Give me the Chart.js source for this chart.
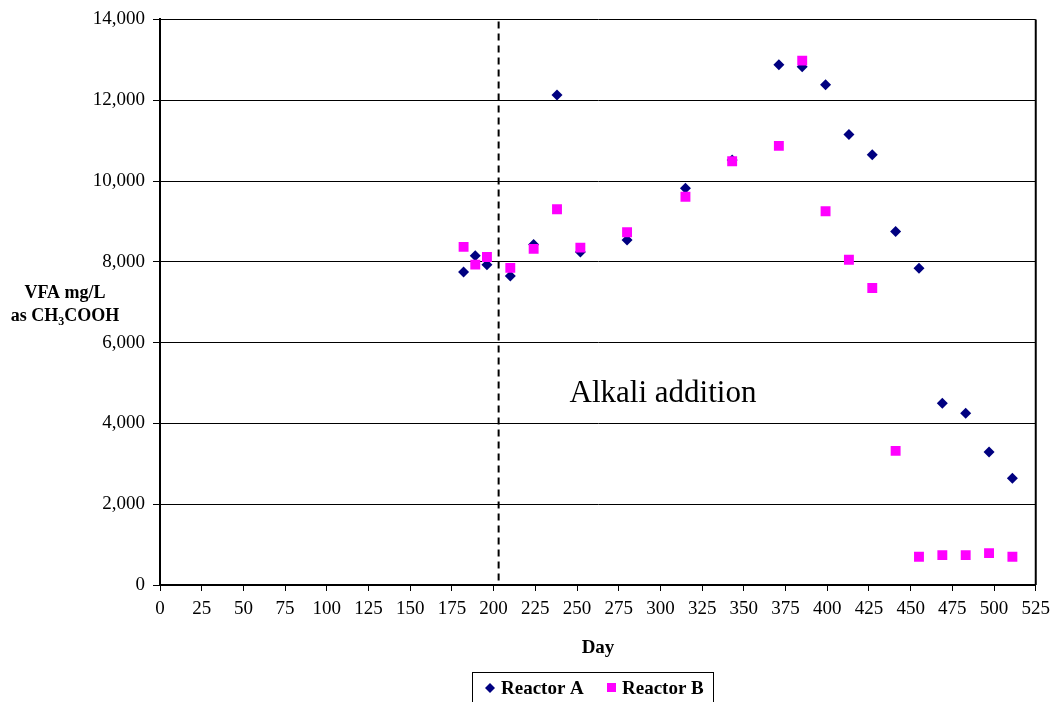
<!DOCTYPE html>
<html>
<head>
<meta charset="utf-8">
<script src="https://cdn.jsdelivr.net/npm/chart.js@4.4.1/dist/chart.umd.min.js"></script>
<style>
  body { margin: 0; background: #fff; }
  #wrap { width: 1057px; height: 702px; position: relative; }
</style>
</head>
<body>
<div id="wrap"><canvas id="grafica"></canvas></div>
<script>
// days sampled (both reactors)
const dias = [182, 189, 196, 210, 224, 238, 252, 280, 315, 343, 371, 385, 399, 413, 427, 441, 455, 469, 483, 497, 511];
// VFA mg/L as CH3COOH
const reactorA = [7750, 8150, 7930, 7650, 8430, 12130, 8240, 8540, 9820, 10520, 12880, 12830, 12380, 11150, 10650, 8750, 7840, 4500, 4250, 3290, 2640];
const reactorB = [8370, 7930, 8120, 7850, 8320, 9300, 8350, 8730, 9610, 10490, 10870, 12980, 9250, 8050, 7350, 3320, 700, 740, 740, 790, 700];
// dashed marker for alkali addition
const diaAlcali = 203;
const alcaliY = [13950, 100];

const ejeX = { min: 0, max: 525, paso: 25 };
const ejeY = { min: 0, max: 14000, paso: 2000 };

const serif = "'Liberation Serif', 'Times New Roman', serif";

function puntos(vals) {
    return dias.map((d, i) => ({ x: d, y: vals[i] }));
}

// texts, right border and legend box
const extras = {
    id: 'extras',
    afterDraw(chart) {
        const ctx = chart.ctx;
        const a = chart.chartArea;
        ctx.save();
        // right border of plot area
        ctx.strokeStyle = '#000';
        ctx.lineWidth = 2;
        ctx.beginPath();
        ctx.moveTo(a.right, a.top);
        ctx.lineTo(a.right, a.bottom);
        ctx.stroke();

        ctx.fillStyle = '#000';
        ctx.textBaseline = 'alphabetic';

        // annotation
        ctx.font = '31px ' + serif;
        ctx.textAlign = 'center';
        ctx.fillText('Alkali addition', 663, 402);

        // x title
        ctx.font = 'bold 19px ' + serif;
        ctx.fillText('Day', 598, 653);

        // y title
        ctx.font = 'bold 18px ' + serif;
        ctx.fillText('VFA mg/L', 65, 298);
        const p1 = 'as CH', p2 = '3', p3 = 'COOH';
        const w1 = ctx.measureText(p1).width, w3 = ctx.measureText(p3).width;
        ctx.font = 'bold 12px ' + serif;
        const w2 = ctx.measureText(p2).width;
        let x = 65 - (w1 + w2 + w3) / 2;
        ctx.textAlign = 'left';
        ctx.font = 'bold 18px ' + serif;
        ctx.fillText(p1, x, 321);
        x += w1;
        ctx.font = 'bold 12px ' + serif;
        ctx.fillText(p2, x, 325);
        x += w2;
        ctx.font = 'bold 18px ' + serif;
        ctx.fillText(p3, x, 321);

        // legend
        ctx.lineWidth = 1;
        ctx.strokeStyle = '#000';
        ctx.strokeRect(472.5, 672.5, 241, 40);
        ctx.fillStyle = '#000080';
        ctx.beginPath();
        ctx.moveTo(490, 683);
        ctx.lineTo(495, 688);
        ctx.lineTo(490, 693);
        ctx.lineTo(485, 688);
        ctx.closePath();
        ctx.fill();
        ctx.fillStyle = '#FF00FF';
        ctx.fillRect(607, 683, 9, 9);
        ctx.fillStyle = '#000';
        ctx.font = 'bold 19px ' + serif;
        ctx.fillText('Reactor A', 501, 694);
        ctx.fillText('Reactor B', 622, 694);
        ctx.restore();
    }
};

const ctx = document.getElementById('grafica');
const grafica = new Chart(ctx, {
    type: 'scatter',
    data: {
        datasets: [{
            label: 'Reactor A',
            data: puntos(reactorA),
            pointStyle: 'rectRot',
            pointRadius: 5.5,
            pointHoverRadius: 5.5,
            backgroundColor: '#000080',
            borderColor: '#000080',
            borderWidth: 0,
            order: 2
        }, {
            label: 'Reactor B',
            data: puntos(reactorB),
            pointStyle: 'rect',
            pointRadius: 7,
            pointHoverRadius: 7,
            backgroundColor: '#FF00FF',
            borderColor: '#FF00FF',
            borderWidth: 0,
            order: 1
        }, {
            label: 'Alkali addition',
            type: 'line',
            data: alcaliY.map(v => ({ x: diaAlcali, y: v })),
            showLine: true,
            pointRadius: 0,
            borderColor: '#000',
            borderWidth: 2,
            borderDash: [7, 5],
            order: 3
        }]
    },
    options: {
        responsive: true,
        maintainAspectRatio: false,
        animation: false,
        layout: { padding: { left: 0, right: 19, top: 18, bottom: 0 } },
        plugins: {
            legend: { display: false },
            tooltip: { enabled: false }
        },
        scales: {
            x: {
                type: 'linear',
                min: ejeX.min,
                max: ejeX.max,
                afterFit: function(scale) { scale.height = 117; },
                ticks: {
                    stepSize: ejeX.paso,
                    color: '#000',
                    padding: 7,
                    maxRotation: 0,
                    autoSkip: false,
                    font: { family: serif, size: 19 }
                },
                grid: {
                    drawOnChartArea: false,
                    drawTicks: true,
                    tickLength: 6,
                    color: '#000'
                },
                border: { display: true, color: '#000', width: 2 }
            },
            y: {
                min: ejeY.min,
                max: ejeY.max,
                afterFit: function(scale) { scale.width = 160; },
                ticks: {
                    stepSize: ejeY.paso,
                    color: '#000',
                    padding: 8,
                    font: { family: serif, size: 19 },
                    callback: function(value) {
                        return Number(value).toLocaleString('en-US');
                    }
                },
                grid: {
                    color: '#000',
                    lineWidth: 1,
                    drawTicks: true,
                    tickLength: 7
                },
                border: { display: true, color: '#000', width: 2 }
            }
        }
    },
    plugins: [extras]
});
</script>
</body>
</html>
